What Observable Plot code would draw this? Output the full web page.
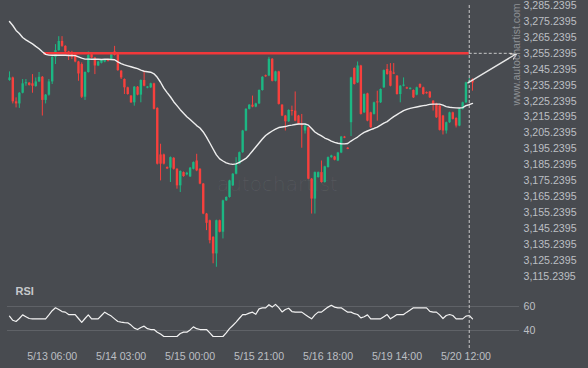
<!DOCTYPE html>
<html><head><meta charset="utf-8">
<script src="https://cdn.jsdelivr.net/npm/d3@7"></script>
<script src="https://cdn.jsdelivr.net/npm/@observablehq/plot@0.6"></script>
<style>
html,body{margin:0;padding:0;background:#484b50;}
#chart{width:588px;height:368px;overflow:hidden;background:#484b50;}
#chart svg{display:block;overflow:visible;}
</style></head><body><div id="chart"></div>
<script>
// Hourly candles (bar index 0..141)
const open = [
3238.2,3239.8,3224.8,3223.5,3230.2,3236.1,3236.5,3236.1,3234.4,3237.3,
3240.2,3225.7,3229.0,3237.3,3252.7,3256.9,3262.7,3259.6,3256.1,3255.2,
3254.4,3249.8,3248.2,3227.7,3243.2,3254.4,3252.3,3247.3,3249.0,3249.8,
3251.0,3251.5,3256.1,3254.4,3244.0,3238.8,3233.6,3228.4,3224.2,3234.0,
3229.0,3238.2,3233.4,3233.6,3236.1,3220.7,3191.5,3191.5,3183.6,3183.2,
3189.4,3182.5,3172.1,3180.4,3179.0,3177.7,3182.5,3187.7,3182.5,3173.2,
3154.4,3150.2,3139.8,3129.4,3150.2,3143.0,3162.7,3164.8,3172.1,3179.4,
3185.7,3192.9,3206.5,3220.1,3222.7,3221.5,3223.5,3231.9,3241.2,3241.0,
3251.5,3237.7,3243.6,3222.7,3215.9,3212.3,3219.4,3219.0,3215.9,3210.5,
3206.5,3208.6,3176.3,3163.8,3177.3,3180.4,3174.2,3183.6,3189.8,3190.2,
3187.7,3192.7,3202.7,3195.7,3211.7,3245.7,3236.7,3247.3,3217.9,3229.8,
3217.9,3216.9,3224.8,3224.2,3233.6,3245.1,3244.0,3242.9,3240.9,3229.4,
3234.6,3233.6,3232.6,3231.9,3229.0,3235.7,3233.6,3230.6,3230.9,3225.2,
3223.5,3222.1,3215.9,3206.5,3211.7,3217.9,3214.4,3209.6,3220.1,3224.2,
3236.9,3238.8];
const close = [
3239.8,3224.8,3223.5,3230.2,3236.1,3236.7,3235.1,3234.6,3237.3,3240.2,
3225.7,3229.0,3237.3,3252.7,3256.9,3262.7,3259.6,3256.1,3254.4,3252.7,
3249.8,3242.3,3227.7,3243.2,3254.0,3252.3,3247.3,3249.8,3250.7,3250.7,
3250.3,3254.4,3254.0,3244.4,3239.8,3233.6,3229.4,3224.2,3234.0,3229.0,
3238.2,3234.6,3234.0,3236.1,3220.1,3185.7,3185.7,3185.7,3182.7,3189.8,
3182.5,3172.1,3181.1,3177.9,3180.0,3183.2,3186.7,3181.5,3173.2,3154.4,
3148.6,3137.7,3129.4,3150.2,3143.0,3162.7,3164.8,3175.2,3179.4,3185.2,
3192.9,3206.5,3220.1,3222.7,3221.5,3223.5,3231.9,3240.2,3240.6,3251.5,
3237.7,3243.6,3223.2,3215.9,3212.3,3219.4,3218.8,3212.7,3210.7,3209.9,
3209.6,3176.3,3163.8,3180.4,3180.4,3174.2,3184.0,3189.8,3190.9,3188.2,
3192.7,3202.7,3202.1,3195.2,3239.8,3235.7,3247.3,3216.9,3229.4,3212.7,
3208.6,3224.2,3224.2,3232.5,3244.4,3241.9,3234.6,3242.3,3229.4,3234.6,
3235.2,3233.0,3233.2,3227.3,3233.6,3233.6,3229.4,3230.0,3227.3,3223.2,
3214.8,3206.9,3206.5,3211.7,3217.9,3213.8,3209.6,3220.1,3224.2,3236.7,
3237.7,3236.7];
const high = [
3243.6,3240.3,3227.3,3230.6,3238.8,3238.8,3236.9,3241.9,3239.8,3243.2,
3240.7,3229.4,3238.8,3253.1,3260.7,3265.7,3265.7,3260.0,3256.5,3256.5,
3255.0,3250.2,3249.2,3243.6,3256.1,3254.9,3252.7,3250.3,3251.2,3251.1,
3251.5,3254.8,3259.6,3254.8,3244.5,3239.2,3234.0,3228.8,3234.4,3234.4,
3238.6,3244.0,3234.4,3236.5,3236.5,3221.1,3198.2,3192.0,3184.0,3190.2,
3189.8,3182.9,3181.5,3180.8,3180.6,3183.6,3187.1,3191.9,3182.9,3173.6,
3154.8,3150.6,3140.2,3150.6,3150.6,3163.1,3165.2,3175.6,3179.8,3189.8,
3193.3,3206.9,3220.5,3223.1,3228.4,3223.9,3232.3,3240.6,3241.6,3252.7,
3252.0,3244.0,3244.0,3223.1,3216.3,3219.8,3222.1,3231.0,3216.3,3216.9,
3210.0,3209.0,3176.7,3180.8,3180.8,3187.7,3184.4,3190.2,3191.3,3190.6,
3193.1,3203.1,3203.1,3196.1,3240.2,3246.1,3249.8,3247.7,3229.8,3230.2,
3218.3,3224.6,3231.5,3232.9,3244.8,3248.2,3248.8,3248.8,3241.3,3235.0,
3239.8,3234.0,3233.6,3232.3,3234.0,3236.1,3234.0,3231.0,3231.3,3225.6,
3223.9,3222.5,3216.3,3212.1,3218.3,3218.3,3214.8,3220.5,3224.6,3237.1,
3239.4,3239.2];
const low = [
3237.7,3223.5,3221.0,3220.7,3229.8,3234.6,3234.7,3230.2,3233.9,3236.9,
3215.9,3223.5,3228.4,3235.7,3248.2,3256.5,3259.0,3255.7,3250.7,3251.3,
3249.3,3237.7,3226.9,3225.7,3242.8,3251.9,3241.9,3246.9,3248.6,3249.3,
3249.8,3251.0,3253.6,3243.9,3238.8,3229.4,3229.0,3223.8,3222.1,3228.6,
3224.2,3234.2,3233.0,3233.2,3219.7,3185.2,3175.2,3185.2,3182.3,3174.2,
3182.0,3170.0,3167.9,3177.5,3178.4,3177.3,3182.1,3181.0,3172.8,3154.0,
3144.0,3135.7,3123.2,3121.0,3142.6,3138.8,3162.3,3164.4,3171.7,3179.0,
3185.3,3192.5,3206.1,3219.7,3221.1,3221.1,3223.1,3231.5,3240.2,3240.6,
3237.3,3237.3,3222.8,3215.5,3206.5,3211.9,3215.9,3212.3,3210.3,3195.7,
3204.6,3175.9,3154.4,3154.4,3176.9,3173.8,3173.8,3183.2,3189.4,3187.8,
3187.3,3192.3,3201.7,3194.8,3203.0,3235.3,3236.3,3216.5,3217.5,3212.3,
3208.2,3216.5,3212.7,3223.8,3233.2,3241.5,3234.2,3241.9,3229.0,3224.2,
3234.2,3232.6,3232.2,3226.9,3228.6,3233.2,3229.0,3229.6,3226.9,3219.0,
3214.4,3206.5,3204.0,3204.6,3211.3,3213.4,3208.4,3209.2,3219.7,3223.8,
3236.5,3231.5];
// Moving average (white line)
const ma = [
3275.2,3272.7,3269.6,3267.7,3265.2,3263.7,3262.4,3261.2,3259.6,3258.1,
3256.2,3254.6,3254.1,3254.0,3254.0,3254.0,3254.0,3254.0,3253.9,3253.9,
3253.8,3253.0,3252.2,3251.6,3251.6,3251.5,3251.5,3251.5,3251.4,3251.5,
3251.5,3251.4,3251.2,3249.9,3248.8,3248.0,3247.4,3246.8,3246.2,3245.6,
3244.7,3244.0,3243.7,3243.4,3242.4,3240.2,3237.1,3233.4,3230.6,3228.0,
3224.9,3222.4,3219.9,3217.7,3215.5,3213.7,3211.8,3209.9,3208.4,3205.9,
3202.7,3199.0,3195.2,3191.5,3189.0,3187.7,3186.5,3185.9,3185.6,3185.9,
3186.8,3188.1,3189.3,3191.5,3194.0,3196.5,3199.0,3201.5,3203.7,3205.2,
3206.5,3207.7,3208.7,3209.0,3209.3,3209.9,3210.2,3210.6,3210.9,3210.9,
3210.9,3210.2,3208.1,3205.9,3204.6,3203.4,3202.1,3201.2,3200.2,3199.4,
3198.8,3198.5,3198.4,3198.7,3200.2,3201.5,3202.7,3204.3,3205.6,3206.5,
3207.4,3208.1,3209.0,3210.2,3211.5,3212.4,3214.0,3215.5,3216.8,3218.1,
3219.3,3220.1,3220.7,3221.2,3221.6,3222.0,3222.4,3222.7,3223.2,3223.4,
3223.4,3223.4,3222.7,3221.8,3221.4,3221.2,3221.0,3220.9,3221.2,3222.4,
3223.0,3223.8];
// RSI
const rsi = [
52,48.5,47.5,50,53,51.5,50,49.7,49.7,49.7,
49.7,49.7,53,56.5,58.9,57.5,55.8,55.3,53.3,53.3,
53.3,50,46.8,50,53,49.7,49.7,49.7,52.5,55.3,
53.5,52,49.7,47.5,47,46.6,46.4,44.5,42,40.8,
42.5,43.6,41.5,40.8,40.8,38.6,37,35,35,35,
35,35,37.5,38.6,38.6,40.5,43,41.5,40.8,40.8,
40.8,38,35,35,35,35,38,41.5,44.2,47,
50.2,53.3,53.3,54.5,55.3,53.5,58,58.9,58.9,61.5,
59.5,61.8,59,55.5,57.5,58.5,55.8,55.3,55.3,55.3,
53.3,51.5,49.7,53,55.3,55.3,57.5,59.5,61,59.5,
58.9,58.9,57,55.3,55.3,54,53.3,50.5,51.5,53,
49.7,49.7,49.7,49.7,51.5,53.3,49.7,51.5,53.3,53.3,
53.3,55.3,57,58.9,58.9,58.9,58.9,58.9,56,55.3,
55.3,53,50,52.5,53.3,52.5,49.7,49.7,49.7,52,
52.5,49.7];

const xTickBars = [13, 34, 55, 76, 97, 118, 139];
const xTickLabels = ["5/13 06:00","5/14 03:00","5/15 00:00","5/15 21:00","5/16 18:00","5/19 14:00","5/20 12:00"];
const yTicks = [3115.2395,3125.2395,3135.2395,3145.2395,3155.2395,3165.2395,3175.2395,3185.2395,3195.2395,
  3205.2395,3215.2395,3225.2395,3235.2395,3245.2395,3255.2395,3265.2395,3275.2395,3285.2395];
const rsiTicks = [40, 60];

// Resistance level and forecast
const resistanceLevel = 3255.2395;
const resistanceStart = 10.4;
const signalBar = 140;
const forecast = [{x1: 139.6, y1: 3236.7, x2: 154.4, y2: 3255.0}];
const forecastEnd = 154.4;

const GREEN = "#1cb783", RED = "#f7403d", BG = "#484b50", TXT = "#bcbfc3";
const xDomain = [-2.74, 155.0];
const yDomain = [3109.58, 3288.38];
const bars = d3.range(open.length).map(i => ({i, o: open[i], h: high[i], l: low[i], c: close[i], ma: ma[i], rsi: rsi[i]}));
const up = bars.filter(d => d.c > d.o), down = bars.filter(d => d.c <= d.o);
const bodyEnd = d => Math.abs(d.c - d.o) < 0.7 ? d.o + (d.c >= d.o ? 0.7 : -0.7) : d.c;

const baseStyle = {background: BG, color: TXT, fontFamily: "'Liberation Sans', Arial, sans-serif", fontSize: "10.6px", overflow: "visible"};

const price = Plot.plot({
  width: 588, height: 285, marginLeft: 0, marginRight: 70, marginTop: 0, marginBottom: 0,
  style: baseStyle,
  x: {domain: xDomain, axis: null},
  y: {domain: yDomain, axis: "right", ticks: yTicks, tickFormat: d3.format(",.4f"), tickSize: 0, tickPadding: 5, label: null},
  marks: [
    Plot.text(["autochartist"], {frameAnchor: "middle", dx: 18, dy: 42, fill: "#ffffff", fillOpacity: 0.07, fontSize: 20, fontWeight: 200, fontFamily: "DejaVu Sans"}),
    Plot.ruleX(up, {x: "i", y1: "l", y2: "h", stroke: GREEN, strokeWidth: 1}),
    Plot.ruleX(down, {x: "i", y1: "l", y2: "h", stroke: RED, strokeWidth: 1}),
    Plot.ruleX(up, {x: "i", y1: "o", y2: bodyEnd, stroke: GREEN, strokeWidth: 2.4}),
    Plot.ruleX(down, {x: "i", y1: "o", y2: bodyEnd, stroke: RED, strokeWidth: 2.4}),
    Plot.ruleY([resistanceLevel], {x1: resistanceStart, x2: signalBar, stroke: "#f2383a", strokeWidth: 2.4}),
    Plot.ruleY([resistanceLevel], {x1: signalBar, x2: forecastEnd, stroke: "#c8c8c8", strokeWidth: 1, strokeDasharray: "3,2"}),
    Plot.line(bars, {x: "i", y: "ma", stroke: "#eeeeee", strokeWidth: 1.4}),
    Plot.ruleX([signalBar], {y1: yTicks[yTicks.length - 1], y2: yDomain[0], stroke: "#c8c8c8", strokeWidth: 1, strokeDasharray: "3,2"}),
    Plot.arrow(forecast, {x1: "x1", y1: "y1", x2: "x2", y2: "y2", stroke: "#e8e8e8", strokeWidth: 1.3, headLength: 7}),
    Plot.text(["www.autochartist.com"], {frameAnchor: "top-right", dx: -2, dy: 54, rotate: -90, fill: "#8e9195", fontSize: 10.5, textAnchor: "middle", lineAnchor: "middle"})
  ]
});

const rsiPlot = Plot.plot({
  width: 588, height: 83, marginLeft: 0, marginRight: 70, marginTop: 0, marginBottom: 18,
  style: baseStyle,
  x: {domain: xDomain, ticks: xTickBars, tickFormat: v => xTickLabels[xTickBars.indexOf(v)], tickSize: 0, tickPadding: 2, label: null},
  y: {domain: [23.33, 77.5], axis: "right", ticks: rsiTicks, tickSize: 0, tickPadding: 5, label: null},
  marks: [
    Plot.ruleY(rsiTicks, {x1: -0.6, x2: 155.3, stroke: "#606368", strokeWidth: 1}),
    Plot.line(bars, {x: "i", y: "rsi", stroke: "#f2f2f2", strokeWidth: 1.2}),
    Plot.ruleX([signalBar], {stroke: "#c8c8c8", strokeWidth: 1, strokeDasharray: "3,2"}),
    Plot.text(["RSI"], {frameAnchor: "top-left", dx: 15, dy: 6, textAnchor: "start", lineAnchor: "middle", fill: "#c6c8cb", fontWeight: "bold", fontSize: 11})
  ]
});

document.getElementById("chart").append(price, rsiPlot);
</script>
</body></html>
